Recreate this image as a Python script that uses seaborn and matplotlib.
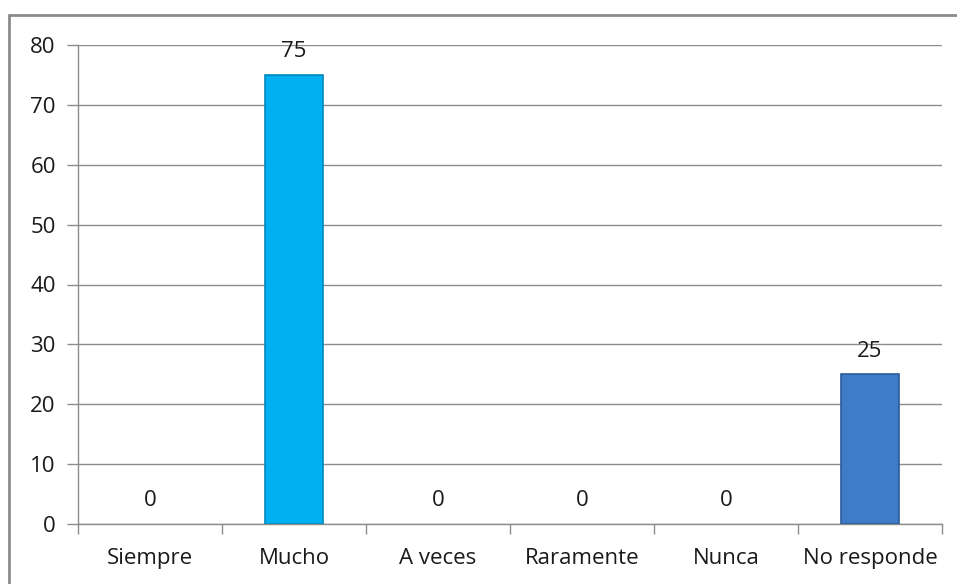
import matplotlib
matplotlib.use("Agg")
import matplotlib.pyplot as plt
import seaborn as sns
import pandas as pd
from matplotlib.lines import Line2D

categorias = ["Siempre", "Mucho", "A veces", "Raramente", "Nunca", "No responde"]
valores = [0, 75, 0, 0, 0, 25]
colores = ["#00B0F0", "#00B0F0", "#00B0F0", "#00B0F0", "#00B0F0", "#3F7CC8"]
bordes = ["#0089BD", "#0089BD", "#0089BD", "#0089BD", "#0089BD", "#2B5C98"]
yticks = [0, 10, 20, 30, 40, 50, 60, 70, 80]

sns.set_theme(style="white")
plt.rcParams['font.family'] = ['Open Sans', 'DejaVu Sans']

df = pd.DataFrame({'Categoria': categorias, 'Valor': valores})

fig = plt.figure(figsize=(9.57, 5.84), dpi=100)
ax = fig.add_axes([78 / 957, 60 / 584, 864 / 957, 479 / 584])

sns.barplot(data=df, x='Categoria', y='Valor', hue='Categoria', palette=colores,
            legend=False, width=0.40, ax=ax, zorder=3, saturation=1, linewidth=0)

# darker rim on the visible bars
for p in ax.patches:
    i = int(round(p.get_x() + p.get_width() / 2))
    if p.get_height() > 0:
        p.set_edgecolor(bordes[i])
        p.set_linewidth(1.2)

ax.set_ylim(0, 80)
ax.set_yticks(yticks)
ax.set_xlim(-0.5, len(categorias) - 0.5)
ax.yaxis.grid(True, color='#8C8C8C', linewidth=1.0, zorder=0)
ax.set_xlabel('')
ax.set_ylabel('')

for s in ['top', 'right']:
    ax.spines[s].set_visible(False)
for s in ['left', 'bottom']:
    ax.spines[s].set_color('#8C8C8C')
    ax.spines[s].set_linewidth(1.0)

# major ticks at category boundaries on x, labels centered
ax.set_xticks([i - 0.5 for i in range(len(categorias) + 1)])
ax.set_xticklabels([''] * (len(categorias) + 1))
ax.set_xticks(range(len(categorias)), minor=True)
ax.set_xticklabels(categorias, minor=True, fontsize=16, color='#1A1A1A')
ax.tick_params(axis='x', which='major', bottom=True, length=7, color='#8C8C8C', width=1)
ax.tick_params(axis='x', which='minor', bottom=False, pad=13)
ax.tick_params(axis='y', left=True, length=8, color='#8C8C8C', width=1,
               labelsize=16, labelcolor='#1A1A1A', pad=8)

for i, v in enumerate(valores):
    ax.annotate(str(v), (i, v), xytext=(0, 9), textcoords='offset points',
                ha='center', va='bottom', fontsize=16, color='#1A1A1A')

# outer chart frame (top and left visible)
fig.add_artist(Line2D([9 / 957, 1.0], [1 - 15 / 584, 1 - 15 / 584],
                      transform=fig.transFigure, color='#8C8C8C', linewidth=2))
fig.add_artist(Line2D([9 / 957, 9 / 957], [0.0, 1 - 15 / 584],
                      transform=fig.transFigure, color='#8C8C8C', linewidth=2))

fig.savefig('out.png', dpi=100)
